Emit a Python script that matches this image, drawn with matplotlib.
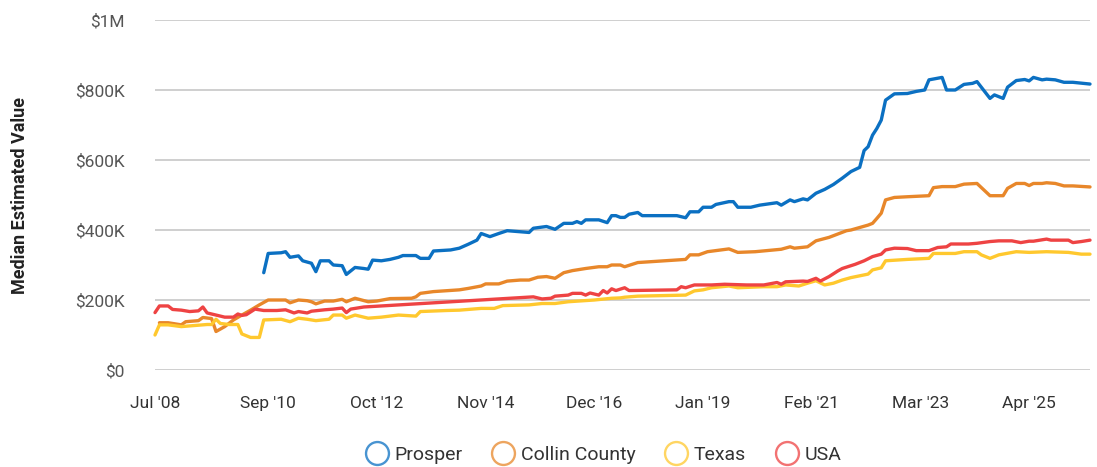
import matplotlib
matplotlib.use("Agg")
import matplotlib.pyplot as plt
from matplotlib.lines import Line2D
import pandas as pd

plt.rcParams['font.family'] = ['Roboto', 'DejaVu Sans']

START = '2008-07-01'
END_MONTH = 215

series_names = ['Prosper', 'Collin County', 'Texas', 'USA']
series_colors = ['#0B70C2', '#E8872A', '#FFC82E', '#EE4343']

# months since Jul 2008, values in $K
prosper_m = [25,26,29,30,31,33,34,36,37,38,40,41,43,44,46,48,49,50,52,54,56,57,60,61,63,64,68,70,72,74,75,77,79,81,86,87,90,92,94,96,97,98,99,101,102,104,105,106,107,108,109,111,112,120,122,123,125,126,128,129,132,133,134,137,139,143,144,146,147,149,150,152,154,156,158,160,162,163,164,165,166,167,168,170,173,175,177,178,181,182,184,186,188,189,192,193,195,196,198,200,201,202,204,205,207,209,211,215]
prosper_v = [278,333,335,338,322,326,312,305,281,312,312,300,298,273,293,290,288,314,312,316,322,327,327,319,319,340,343,348,359,371,390,381,390,398,393,405,410,402,419,419,424,419,429,429,429,421,441,441,436,436,445,450,441,441,435,452,452,465,465,473,481,481,465,465,471,478,471,486,481,489,486,505,516,530,548,567,579,627,638,671,690,714,771,789,790,796,800,829,836,800,800,816,819,824,776,786,776,808,827,830,826,836,829,831,829,822,822,817]

collin_m = [1,3,6,7,10,11,13,14,16,18,20,22,24,26,30,31,33,35,36,37,39,41,43,44,46,49,51,54,59,60,61,64,70,72,75,76,79,81,84,86,88,90,92,94,96,99,102,104,105,107,108,111,122,123,125,127,132,134,138,144,146,147,150,152,155,159,160,164,165,166,167,168,170,173,178,179,181,184,186,189,192,195,196,198,200,201,202,204,205,207,209,211,215]
collin_v = [135,135,129,138,141,150,147,110,124,143,157,171,186,200,200,192,200,198,195,189,197,197,202,195,205,195,197,204,205,209,219,224,229,233,240,246,246,254,257,257,265,267,262,278,284,290,295,295,300,300,295,307,316,329,329,338,346,336,338,345,352,348,352,369,379,398,400,414,419,433,448,486,493,495,498,521,524,524,531,533,498,498,519,533,533,527,533,533,535,533,526,526,523]

texas_m = [0,1,3,6,9,12,13,14,15,17,19,20,22,24,25,29,31,33,35,37,40,41,43,44,46,49,52,56,60,61,67,70,75,78,80,86,89,92,95,101,105,107,108,111,122,124,126,128,132,134,140,143,145,148,150,152,154,156,158,160,164,165,167,168,173,178,179,184,186,189,190,192,194,198,201,205,210,213,215]
texas_v = [100,129,129,124,127,130,130,145,133,130,130,103,93,93,143,145,138,148,145,141,145,157,157,148,157,148,151,157,154,167,170,171,176,176,184,186,190,190,195,200,205,206,208,211,214,226,229,235,240,235,238,238,243,240,248,255,243,248,257,264,274,286,292,312,316,319,333,333,338,338,329,319,329,338,336,338,336,331,331]

usa_m = [0,1,3,4,6,8,10,11,12,14,16,18,19,20,21,23,25,28,30,32,33,35,36,39,41,43,44,45,48,52,87,89,91,92,95,96,98,99,100,102,103,104,105,106,108,109,120,121,122,124,128,131,136,140,143,144,145,149,150,152,153,155,157,158,161,163,165,167,168,170,173,175,178,180,182,183,187,189,192,194,197,199,201,202,205,206,210,211,213,215]
usa_v = [164,183,183,173,171,167,169,180,163,157,151,151,160,156,158,174,170,170,172,163,167,163,168,172,174,177,164,174,180,183,209,203,205,211,214,219,219,214,220,214,227,220,232,227,235,227,229,238,235,243,243,245,243,243,250,245,252,254,253,262,254,267,283,290,302,312,324,331,343,348,347,341,341,350,352,360,360,362,367,369,369,364,368,368,374,371,371,364,367,371]

tick_dates = ['2008-07', '2010-09', '2012-10', '2014-11', '2016-12', '2019-01', '2021-02', '2023-03', '2025-04']
tick_labels = ["Jul '08", "Sep '10", "Oct '12", "Nov '14", "Dec '16", "Jan '19", "Feb '21", "Mar '23", "Apr '25"]
y_ticks = [0, 200, 400, 600, 800, 1000]
y_labels = ['$0', '$200K', '$400K', '$600K', '$800K', '$1M']

base = pd.Timestamp(START)
def to_dates(months):
    return [base + pd.DateOffset(months=int(m)) for m in months]

fig = plt.figure(figsize=(10.97, 4.67), dpi=100)
ax = fig.add_axes([155/1097, 1 - 370/467, (1090 - 155)/1097, 350/467])

data = [(prosper_m, prosper_v), (collin_m, collin_v), (texas_m, texas_v), (usa_m, usa_v)]
for (ms, vs), name, c in zip(data, series_names, series_colors):
    ax.plot(to_dates(ms), vs, color=c, lw=2.4, solid_joinstyle='round',
            solid_capstyle='round', clip_on=False, zorder=3, label=name)

ax.set_xlim(base, base + pd.DateOffset(months=END_MONTH))
ax.set_ylim(0, 1000)
ax.set_yticks(y_ticks)
ax.set_yticklabels(y_labels)
ax.set_xticks(pd.to_datetime(tick_dates))
ax.set_xticklabels(tick_labels)
ax.grid(axis='y', color='#CCCCCC', lw=1.3)
ax.set_axisbelow(True)
for s in ax.spines.values():
    s.set_visible(False)
ax.tick_params(axis='y', length=0, pad=22, labelsize=12.5, labelcolor='#555555')
ax.tick_params(axis='x', length=0, pad=19, labelsize=12.5, labelcolor='#333333')

fig.text(20/1097, 1 - 195/467, 'Median Estimated Value', rotation=90, ha='center', va='center',
         fontsize=13, fontweight='bold', color='#222222')

handles = [Line2D([], [], marker='o', linestyle='none', markersize=16.5,
                  markerfacecolor='white', markeredgecolor=c, markeredgewidth=1.7, alpha=0.75)
           for c in series_colors]
leg = fig.legend(handles, series_names, loc='center', bbox_to_anchor=(603/1097, 1 - 455/467),
                 ncol=4, frameon=False, fontsize=14, handletextpad=0.3, columnspacing=1.5,
                 handlelength=1.2)
for t in leg.get_texts():
    t.set_color('#333333')

fig.savefig('out.png', dpi=100)
